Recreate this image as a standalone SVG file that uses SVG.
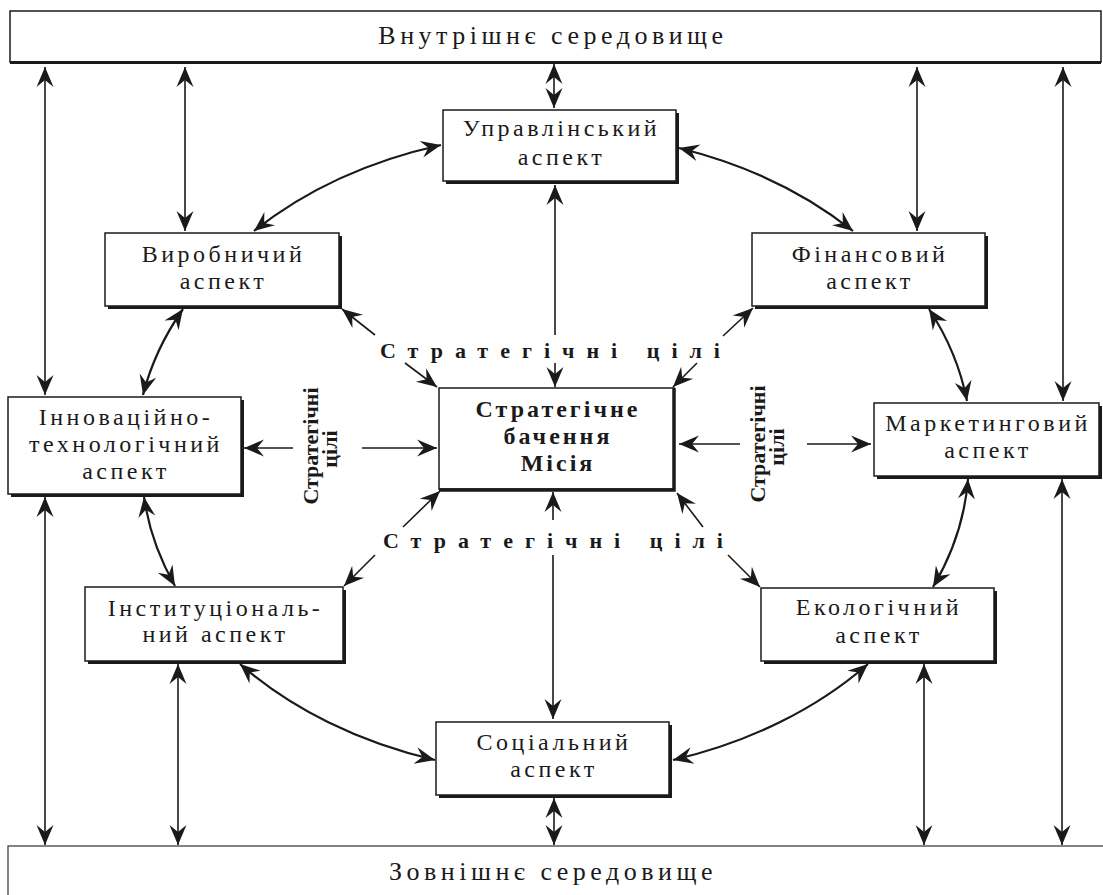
<svg xmlns="http://www.w3.org/2000/svg" width="1103" height="895" viewBox="0 0 1103 895">
<defs>
<style>
.sh{fill:#1a1a1a}
.bx{fill:#fff;stroke:#1a1a1a;stroke-width:1.5}
.t{font-family:"Liberation Serif","Times New Roman",serif;font-size:24px;letter-spacing:3.5px;fill:#1a1a1a;text-anchor:middle}
.tb{font-family:"Liberation Serif","Times New Roman",serif;font-size:24px;font-weight:bold;letter-spacing:3px;fill:#1a1a1a;text-anchor:middle}
.bar{font-family:"Liberation Serif","Times New Roman",serif;font-size:26px;letter-spacing:4.5px;fill:#1a1a1a;text-anchor:middle}
.sc{font-family:"Liberation Serif","Times New Roman",serif;font-size:22px;font-weight:bold;letter-spacing:12px;fill:#1a1a1a}
.rv{font-family:"Liberation Serif","Times New Roman",serif;font-size:22px;font-weight:bold;fill:#1a1a1a;text-anchor:middle}
.ln{fill:none;stroke:#1a1a1a;stroke-width:1.6}
.arc{fill:none;stroke:#1a1a1a;stroke-width:2.2}
.a2{marker-start:url(#ah);marker-end:url(#ah)}
.a1{marker-end:url(#ah)}
.a0{marker-start:url(#ah)}
</style>
<marker id="ah" viewBox="-21 -10 22 20" refX="0" refY="0" markerWidth="22" markerHeight="20" markerUnits="userSpaceOnUse" orient="auto-start-reverse">
<path d="M0,0 L-20,-8.5 L-13,0 L-20,8.5 Z" fill="#1a1a1a"/>
</marker>
</defs>

<g id="top-bar">
<rect x="10" y="11" width="1091" height="51" class="bx"/>
<line x1="10" y1="62.5" x2="1101" y2="62.5" stroke="#1a1a1a" stroke-width="3"/>
<text x="553" y="44" class="bar">Внутрішнє середовище</text>
</g>

<g id="bottom-bar">
<rect x="8" y="846" width="1110" height="70" fill="#fff" stroke="#333" stroke-width="1.2"/>
<text x="553" y="880" class="bar">Зовнішнє середовище</text>
</g>

<g id="connectors">
<path class="ln a2" d="M45,67 V395"/>
<path class="ln a2" d="M185,67 V231"/>
<path class="ln a2" d="M554,64 V108"/>
<path class="ln a2" d="M917,67 V231"/>
<path class="ln a2" d="M1063,67 V401"/>
<path class="ln a2" d="M45,497 V845"/>
<path class="ln a2" d="M178,664 V845"/>
<path class="ln a2" d="M554,798 V845"/>
<path class="ln a2" d="M924,664 V845"/>
<path class="ln a2" d="M1062,479 V845"/>
<path class="arc a2" d="M441,145 A420,312 0 0 0 254,231"/>
<path class="arc a2" d="M679,148 A420,312 0 0 1 853,231"/>
<path class="arc a2" d="M183,309 A420,312 0 0 0 143,395"/>
<path class="arc a2" d="M929,309 A420,312 0 0 1 967,401"/>
<path class="arc a2" d="M144,497 A420,312 0 0 0 175,586"/>
<path class="arc a2" d="M968,479 A420,312 0 0 1 933,587"/>
<path class="arc a2" d="M240,664 A420,312 0 0 0 435,760"/>
<path class="arc a2" d="M868,664 A420,312 0 0 1 673,760"/>
<path class="ln a0" d="M555,185 V335"/>
<path class="ln a1" d="M555,363 V387"/>
<path class="ln a0" d="M553,492 V520"/>
<path class="ln a1" d="M553,555 V719"/>
<path class="ln a1" d="M375,335 L342,309"/>
<path class="ln a1" d="M405,363 L437,387"/>
<path class="ln a1" d="M723,336 L753,308"/>
<path class="ln a1" d="M697,363 L673,387"/>
<path class="ln a1" d="M403,527 L440,491"/>
<path class="ln a1" d="M375,555 L344,586"/>
<path class="ln a1" d="M703,527 L677,493"/>
<path class="ln a1" d="M728,555 L760,587"/>
<path class="ln a1" d="M293,448 H244"/>
<path class="ln a1" d="M362,448 H437"/>
<path class="ln a1" d="M740,444 H679"/>
<path class="ln a1" d="M807,444 H871"/>
</g>

<g id="labels">
<text x="380" y="358" class="sc">Стратегічні цілі</text>
<text x="383" y="548" class="sc">Стратегічні цілі</text>
<text transform="translate(318,446) rotate(-90)" class="rv">Стратегічні</text>
<text transform="translate(337,449) rotate(-90)" class="rv">цілі</text>
<text transform="translate(765,444) rotate(-90)" class="rv">Стратегічні</text>
<text transform="translate(784,447) rotate(-90)" class="rv">цілі</text>
</g>

<g id="n-upr">
<rect x="446" y="113" width="233" height="71" class="sh"/>
<rect x="443" y="110" width="233" height="71" class="bx"/>
<text x="561.5" y="136" class="t">Управлінський</text>
<text x="561.5" y="165" class="t">аспект</text>
</g>

<g id="n-vyr">
<rect x="108" y="236" width="234" height="73" class="sh"/>
<rect x="105" y="233" width="234" height="73" class="bx"/>
<text x="223.5" y="262" class="t">Виробничий</text>
<text x="223.5" y="289" class="t">аспект</text>
</g>

<g id="n-fin">
<rect x="755" y="236" width="233" height="73" class="sh"/>
<rect x="752" y="233" width="233" height="73" class="bx"/>
<text x="870" y="262" class="t">Фінансовий</text>
<text x="870" y="289" class="t">аспект</text>
</g>

<g id="n-inn">
<rect x="11" y="400" width="233" height="97" class="sh"/>
<rect x="8" y="397" width="233" height="97" class="bx"/>
<text x="126" y="425" class="t">Інноваційно-</text>
<text x="126" y="452" class="t">технологічний</text>
<text x="126" y="479" class="t">аспект</text>
</g>

<g id="n-center">
<rect x="439" y="388" width="235" height="101" class="bx"/>
<path d="M674,388 V490 H439" fill="none" stroke="#1a1a1a" stroke-width="3.5"/>
<text x="558" y="417" class="tb">Стратегічне</text>
<text x="558" y="444" class="tb">бачення</text>
<text x="558" y="471" class="tb">Місія</text>
</g>

<g id="n-mark">
<rect x="877" y="406" width="225" height="73" class="sh"/>
<rect x="874" y="403" width="225" height="73" class="bx"/>
<text x="988" y="431" class="t">Маркетинговий</text>
<text x="988" y="458" class="t">аспект</text>
</g>

<g id="n-inst">
<rect x="88" y="590" width="258" height="74" class="sh"/>
<rect x="85" y="587" width="258" height="74" class="bx"/>
<text x="215.5" y="616" class="t">Інституціональ-</text>
<text x="215.5" y="642" class="t">ний аспект</text>
</g>

<g id="n-eco">
<rect x="764" y="591" width="233" height="73" class="sh"/>
<rect x="761" y="588" width="233" height="73" class="bx"/>
<text x="879" y="615" class="t">Екологічний</text>
<text x="879" y="643" class="t">аспект</text>
</g>

<g id="n-soc">
<rect x="439" y="725" width="233" height="73" class="sh"/>
<rect x="436" y="722" width="233" height="73" class="bx"/>
<text x="554" y="750" class="t">Соціальний</text>
<text x="554" y="777" class="t">аспект</text>
</g>
</svg>
